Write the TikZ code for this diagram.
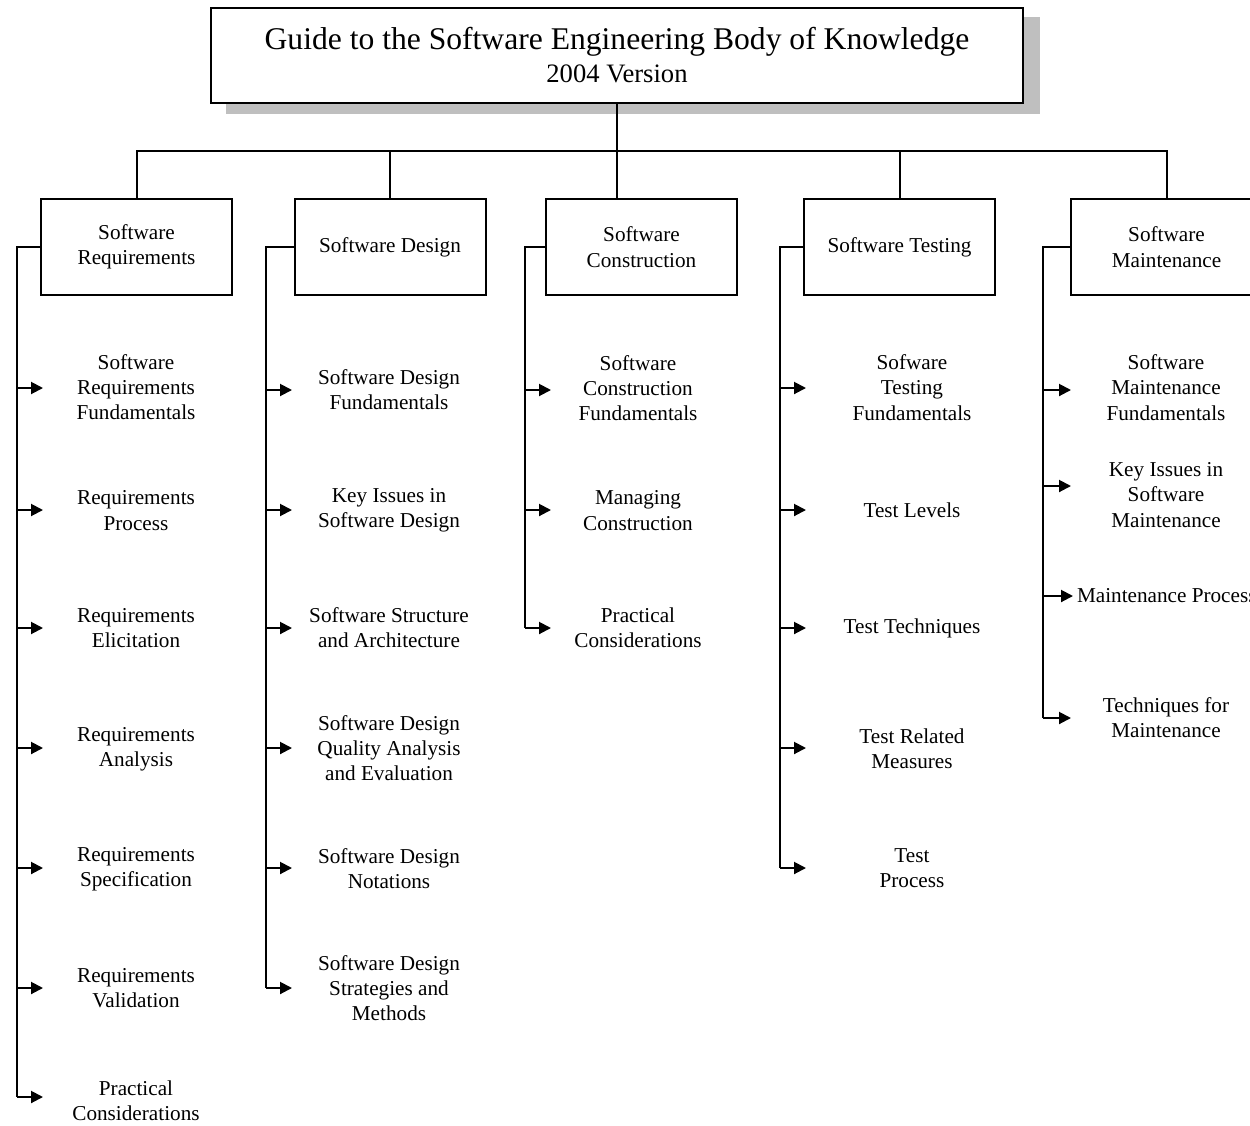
\documentclass[tikz,border=0pt]{standalone}
\usepackage{fontspec}
\setmainfont{Liberation Serif}
\usetikzlibrary{arrows.meta,backgrounds}
\begin{document}
\begin{tikzpicture}[x=0.5pt,y=-0.5pt,
  line width=1pt,
  kabox/.style={draw,fill=white,minimum width=95.5pt,minimum height=48pt,inner sep=0pt,align=center,font=\fontsize{10.6}{12.7}\selectfont},
  topic/.style={inner sep=0pt,align=center,font=\fontsize{10.6}{12.6}\selectfont},
  arr/.style={-{Triangle[length=6pt,width=6pt]}},
  shadowfill/.style={fill=black!25},
]
\useasboundingbox (0,0) rectangle (1250,1126);
\clip (0,0) rectangle (1250,1126);

% title
\node[draw,fill=white,minimum width=406pt,minimum height=47.5pt,inner sep=0pt,align=center,
      font=\fontsize{15.8}{16.5}\selectfont] (title) at (617,55.5)
  {Guide to the Software Engineering Body of Knowledge\\{\fontsize{13.3}{16.5}\selectfont 2004 Version}};
\begin{scope}[on background layer]
  \fill[white] (0,0) rectangle (1250,1126);
  \fill[shadowfill] ([shift={(16,10)}]title.north west) rectangle ([shift={(16,10)}]title.south east);
\end{scope}

% level-1 boxes
\node[kabox] (b1) at (136.5,247) {Software\\Requirements};
\node[kabox] (b2) at (390,247) {Software Design};
\node[kabox] (b3) at (641.5,247) {Software\\Construction};
\node[kabox] (b4) at (899.5,247) {Software Testing};
\node[kabox] (b5) at (1166.5,247) {Software\\Maintenance};

% top connectors
\coordinate (bar) at (617,151);
\draw (title.south) -- (title.south |- b3.north);
\draw (b1.north) |- (bar) -| (b5.north);
\draw (b2.north) -- (b2.north |- bar);
\draw (b4.north) -- (b4.north |- bar);

% column 1
\node[topic] (t11) at (136,387) {Software\\Requirements\\Fundamentals};
\node[topic] (t12) at (136,510.5) {Requirements\\Process};
\node[topic] (t13) at (136,628) {Requirements\\Elicitation};
\node[topic] (t14) at (136,749.5) {Requirements\\Analysis};
\node[topic] (t15) at (136,869) {Requirements\\Specification};
\node[topic] (t16) at (136,988.5) {Requirements\\Validation};
\node[topic] (t17) at (136,1101) {Practical\\Considerations};
\coordinate (a11) at (43,388);
\coordinate (a12) at (43,510);
\coordinate (a13) at (43,628);
\coordinate (a14) at (43,748);
\coordinate (a15) at (43,868);
\coordinate (a16) at (43,988);
\coordinate (a17) at (43,1097);
\coordinate (s1) at (17,1097);
\draw (b1.west) -| (s1);
\foreach \k in {1,...,7} \draw[arr] (a1\k -| s1) -- (a1\k);

% column 2
\node[topic] (t21) at (389,390) {Software Design\\Fundamentals};
\node[topic] (t22) at (389,510.5) {Key Issues in\\Software Design};
\node[topic] (t23) at (389,628) {Software Structure\\and Architecture};
\node[topic] (t24) at (389,748) {Software Design\\Quality Analysis\\and Evaluation};
\node[topic] (t25) at (389,868.5) {Software Design\\Notations};
\node[topic] (t26) at (389,988) {Software Design\\Strategies and\\Methods};
\coordinate (a21) at (292,390);
\coordinate (a22) at (292,510);
\coordinate (a23) at (292,628);
\coordinate (a24) at (292,748);
\coordinate (a25) at (292,868);
\coordinate (a26) at (292,988);
\coordinate (s2) at (266,988);
\draw (b2.west) -| (s2);
\foreach \k in {1,...,6} \draw[arr] (a2\k -| s2) -- (a2\k);

% column 3
\node[topic] (t31) at (638,388) {Software\\Construction\\Fundamentals};
\node[topic] (t32) at (638,510.5) {Managing\\Construction};
\node[topic] (t33) at (638,628) {Practical\\Considerations};
\coordinate (a31) at (551,390);
\coordinate (a32) at (551,510);
\coordinate (a33) at (551,628);
\coordinate (s3) at (525,628);
\draw (b3.west) -| (s3);
\foreach \k in {1,...,3} \draw[arr] (a3\k -| s3) -- (a3\k);

% column 4
\node[topic] (t41) at (912,387.5) {Sofware\\Testing\\Fundamentals};
\node[topic] (t42) at (912,510) {Test Levels};
\node[topic] (t43) at (912,628) {Test Techniques};
\node[topic] (t44) at (912,749) {Test Related\\Measures};
\node[topic] (t45) at (912,868) {Test\\Process};
\coordinate (a41) at (806,388);
\coordinate (a42) at (806,510);
\coordinate (a43) at (806,628);
\coordinate (a44) at (806,748);
\coordinate (a45) at (806,868);
\coordinate (s4) at (780,868);
\draw (b4.west) -| (s4);
\foreach \k in {1,...,5} \draw[arr] (a4\k -| s4) -- (a4\k);

% column 5
\node[topic] (t51) at (1166,387.5) {Software\\Maintenance\\Fundamentals};
\node[topic] (t52) at (1166,495) {Key Issues in\\Software\\Maintenance};
\node[topic,anchor=west] (t53) at (1076,596) {Maintenance Process};
\node[topic] (t54) at (1166,717.5) {Techniques for\\Maintenance};
\coordinate (a51) at (1071,390);
\coordinate (a52) at (1071,486);
\coordinate (a53) at (1073,596);
\coordinate (a54) at (1071,718);
\coordinate (s5) at (1043,718);
\draw (b5.west) -| (s5);
\foreach \k in {1,...,4} \draw[arr] (a5\k -| s5) -- (a5\k);
\end{tikzpicture}
\end{document}
